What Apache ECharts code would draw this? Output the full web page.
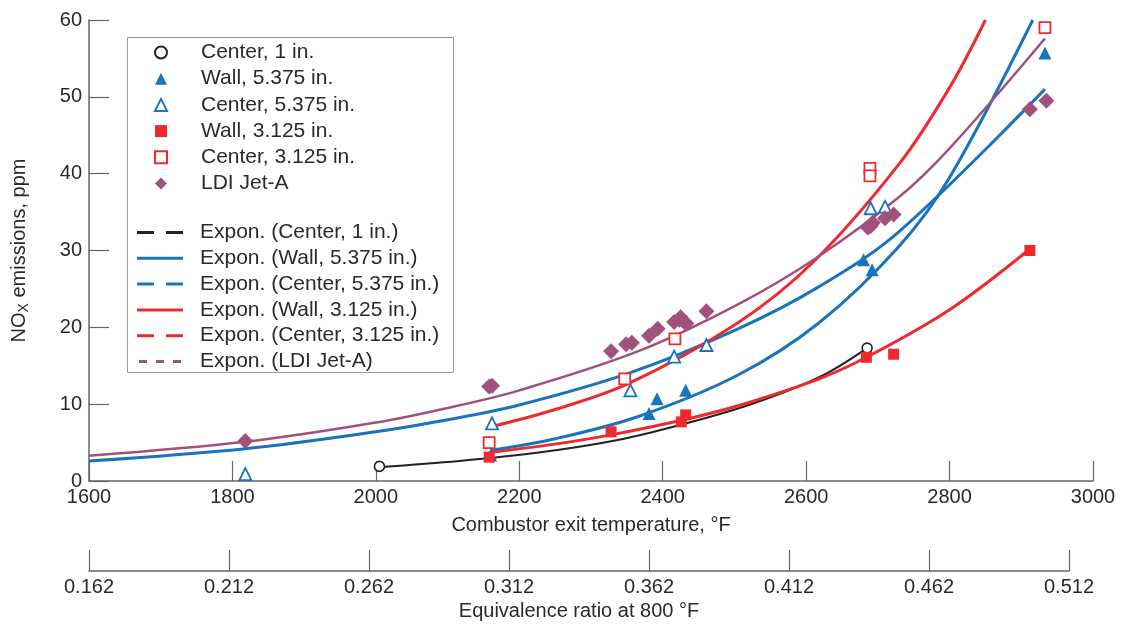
<!DOCTYPE html>
<html>
<head>
<meta charset="utf-8">
<script src="https://cdn.jsdelivr.net/npm/echarts@6/dist/echarts.min.js"></script>
<style>
html,body{margin:0;padding:0;background:#fff;}
#chart{width:1126px;height:632px;}
</style>
</head>
<body>
<div id="chart"></div>
<script>
// ---- data ----
const tempTicks = [1600, 1800, 2000, 2200, 2400, 2600, 2800, 3000];
const eqTickLabels = ['0.162', '0.212', '0.262', '0.312', '0.362', '0.412', '0.462', '0.512'];
const yTicks = [0, 10, 20, 30, 40, 50, 60];

const center1 = [[2005, 1.9], [2685, 17.3]];
const wall5375 = [[2160, 3.4], [2381, 8.8], [2392, 10.7], [2432, 11.8], [2680, 28.8], [2692, 27.5], [2933, 55.7]];
const center5375 = [[1818, 0.9], [2162, 7.5], [2355, 11.8], [2416, 16.2], [2461, 17.7], [2690, 35.5], [2710, 35.7]];
const wall3125 = [[2158, 3.1], [2328, 6.4], [2426, 7.7], [2432, 8.6], [2684, 16.1], [2722, 16.5], [2912, 30.0]];
const center3125 = [[2158, 5.0], [2347, 13.3], [2417, 18.5], [2689, 40.7], [2689, 39.7], [2933, 59.0]];
const ldiJetA = [[1818, 5.2], [2158, 12.3], [2162, 12.4], [2328, 16.9], [2349, 17.8], [2357, 18.0], [2381, 18.9],
  [2393, 19.8], [2416, 20.7], [2423, 21.0], [2430, 20.7], [2425, 21.3], [2433, 20.5], [2461, 22.1],
  [2686, 33.0], [2690, 33.2], [2693, 33.6], [2710, 34.2], [2722, 34.7], [2912, 48.4], [2935, 49.5]];

// trend curves
const fitCenter1 = [[2005, 1.8], [2116, 2.6], [2227, 3.7], [2330, 5.2], [2412, 7.0], [2520, 9.9], [2618, 13.5], [2685, 17.3]];
const fitWall5375 = [[2160, 4.0], [2250, 5.5], [2366, 8.4], [2505, 13.8], [2618, 20.6], [2730, 30.6], [2800, 39.5], [2916, 60]];
const fitCenter5375 = [[1600, 2.6], [1818, 4.2], [2000, 6.4], [2090, 7.8], [2200, 9.9], [2355, 14.1], [2505, 19.8], [2618, 25.3], [2730, 32.5], [2933, 51.0]];
const fitWall3125 = [[2158, 3.7], [2250, 4.8], [2328, 6.0], [2426, 7.9], [2505, 9.8], [2618, 13.3], [2684, 16.1], [2800, 22.3], [2912, 30.2]];
const fitCenter3125 = [[2158, 7.0], [2250, 9.3], [2355, 12.8], [2505, 20.6], [2610, 28.5], [2730, 41.3], [2800, 51.2], [2850, 60]];
const fitLdi = [[1600, 3.3], [1818, 5.1], [2000, 7.6], [2100, 9.5], [2200, 11.8], [2366, 16.9], [2505, 23.0], [2612, 28.9], [2730, 37.0], [2800, 43.3], [2933, 57.6]];

// ---- styling ----
const FONT = "'Liberation Sans', Arial, sans-serif";
const TXT = '#2a2a2a';
const AX = '#666';
const BLUE = '#1a74bd';
const RED = '#ee2a30';
const PURPLE = '#a0527c';
const BLACK = '#222';

const SOLID = 'path://M0,0h46v3h-46z';
const DASH = 'path://M0,0h17v3h-17z M29,0h17v3h-17z';
const DOTS = 'path://M0,0h8v3h-8z M17,0h8v3h-8z M34,0h8v3h-8z';

const chart = echarts.init(document.getElementById('chart'), null, {renderer: 'canvas'});

function scatter(name, data, symbol, size, style) {
  return {name, type: 'scatter', data, symbol, symbolSize: size,
    itemStyle: Object.assign({opacity: 1}, style), z: 4};
}
function fit(name, data, color, width) {
  return {name, type: 'line', data, smooth: 0.35, symbol: 'none',
    lineStyle: {color, width}, itemStyle: {color}, z: 3, clip: true};
}
const intLabel = v => String(v);

const option = {
  animation: false,
  backgroundColor: '#fff',
  textStyle: {fontFamily: FONT, color: TXT},
  grid: [
    {left: 89, right: 33, top: 20, bottom: 151},
    {left: 89, width: 980, top: 571, height: 0}
  ],
  graphic: [{
    type: 'rect', left: 127, top: 37, z: 1,
    shape: {width: 326, height: 335},
    style: {fill: '#fff', stroke: '#9a9a9a', lineWidth: 1}
  }],
  xAxis: [{
    type: 'value', gridIndex: 0, min: tempTicks[0], max: tempTicks[tempTicks.length - 1], interval: 200,
    name: 'Combustor exit temperature, °F', nameLocation: 'middle', nameGap: 34,
    nameTextStyle: {fontSize: 20, color: TXT, fontFamily: FONT},
    axisLine: {lineStyle: {color: AX, width: 1.5}},
    axisTick: {inside: true, length: 20, lineStyle: {color: AX, width: 1.2}},
    axisLabel: {fontSize: 20, color: TXT, margin: 6, fontFamily: FONT, formatter: intLabel},
    splitLine: {show: false}
  }, {
    type: 'value', gridIndex: 1, min: 0, max: 0.35, interval: 0.05,
    name: 'Equivalence ratio at 800 °F', nameLocation: 'middle', nameGap: 30,
    nameTextStyle: {fontSize: 20, color: TXT, fontFamily: FONT},
    axisLine: {lineStyle: {color: AX, width: 1.5}},
    axisTick: {inside: true, length: 21, lineStyle: {color: AX, width: 1.2}},
    axisLabel: {fontSize: 20, color: TXT, margin: 6, fontFamily: FONT,
      formatter: v => eqTickLabels[Math.round(v / 0.05)]},
    splitLine: {show: false}
  }],
  yAxis: [{
    type: 'value', gridIndex: 0, min: yTicks[0], max: yTicks[yTicks.length - 1], interval: 10,
    name: '{a|NO}{b|X}{a| emissions, ppm}', nameLocation: 'middle', nameGap: 58,
    nameTextStyle: {color: TXT, fontFamily: FONT,
      rich: {a: {fontSize: 20, color: TXT, fontFamily: FONT},
             b: {fontSize: 14, color: TXT, fontFamily: FONT, padding: [9, 0, 0, 0]}}},
    axisLine: {show: true, lineStyle: {color: AX, width: 1.5}},
    axisTick: {show: true, inside: true, length: 20, lineStyle: {color: AX, width: 1.2}},
    axisLabel: {fontSize: 20, color: TXT, margin: 7, fontFamily: FONT, formatter: intLabel},
    splitLine: {show: false}
  }, {
    type: 'value', gridIndex: 1, show: false, min: 0, max: 1
  }],
  legend: [{
    orient: 'vertical', left: 154, top: 42, padding: 0, selectedMode: false,
    itemWidth: 12, itemHeight: 12, itemGap: 5.2, z: 5, symbolKeepAspect: true,
    textStyle: {fontSize: 21, color: TXT, fontFamily: FONT, lineHeight: 20, padding: [0, 0, 0, 29]},
    data: ['Center, 1 in.', 'Wall, 5.375 in.', 'Center, 5.375 in.', 'Wall, 3.125 in.', 'Center, 3.125 in.', 'LDI Jet-A']
  }, {
    orient: 'vertical', left: 137, top: 222, padding: 0, selectedMode: false,
    itemWidth: 46, itemHeight: 3, itemGap: 4.8, z: 5,
    textStyle: {fontSize: 21, color: TXT, fontFamily: FONT, lineHeight: 20, padding: [0, 0, 0, 12]},
    data: [
      {name: 'Expon. (Center, 1 in.)', icon: DASH},
      {name: 'Expon. (Wall, 5.375 in.)', icon: SOLID},
      {name: 'Expon. (Center, 5.375 in.)', icon: DASH},
      {name: 'Expon. (Wall, 3.125 in.)', icon: SOLID},
      {name: 'Expon. (Center, 3.125 in.)', icon: DASH},
      {name: 'Expon. (LDI Jet-A)', icon: DOTS}
    ]
  }],
  series: [
    fit('Expon. (Center, 1 in.)', fitCenter1, BLACK, 2),
    fit('Expon. (Wall, 5.375 in.)', fitWall5375, BLUE, 3),
    fit('Expon. (Center, 5.375 in.)', fitCenter5375, BLUE, 3),
    fit('Expon. (Wall, 3.125 in.)', fitWall3125, RED, 3),
    fit('Expon. (Center, 3.125 in.)', fitCenter3125, RED, 3),
    fit('Expon. (LDI Jet-A)', fitLdi, PURPLE, 2.5),
    scatter('Center, 1 in.', center1, 'circle', 10, {color: '#fff', borderColor: BLACK, borderWidth: 1.6}),
    scatter('Wall, 5.375 in.', wall5375, 'triangle', 13, {color: BLUE}),
    scatter('Center, 5.375 in.', center5375, 'triangle', 12, {color: '#fff', borderColor: BLUE, borderWidth: 1.8}),
    scatter('Wall, 3.125 in.', wall3125, 'rect', 11, {color: RED}),
    scatter('Center, 3.125 in.', center3125, 'rect', 11, {color: '#fff', borderColor: RED, borderWidth: 1.8}),
    scatter('LDI Jet-A', ldiJetA, 'diamond', 16, {color: PURPLE})
  ]
};
chart.setOption(option);
</script>
</body>
</html>
